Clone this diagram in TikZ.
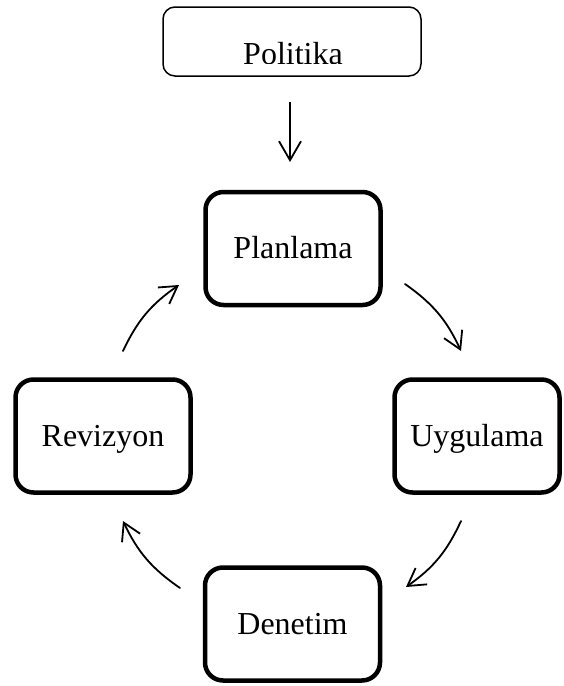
\documentclass[tikz,border=0pt]{standalone}
\usepackage{fontspec}
\setmainfont{Liberation Serif}
\usetikzlibrary{arrows.meta}

\tikzset{
  stagebox/.style={draw=black, line width=4.5pt, rounded corners=18pt,
    inner sep=0pt, minimum width=175pt, minimum height=113pt,
    text height=25pt, text depth=5pt, font=\fontsize{32}{38}\selectfont},
  headbox/.style={draw=black, line width=1.5pt, rounded corners=12pt,
    inner sep=0pt, minimum width=258pt, minimum height=69pt},
  cyclearrow/.style={line width=1.8pt, line cap=round,
    -{Straight Barb[length=17pt, width=20pt, line width=1.8pt]}},
  downarrow/.style={line width=1.8pt,
    -{Straight Barb[length=19pt, width=22pt, line width=1.8pt]}}
}

\begin{document}
\begin{tikzpicture}[x=1pt, y=-1pt]
  \useasboundingbox (0,0) rectangle (563,686);

  % policy box with its label sitting low and trimmed at the bottom
  \node[headbox] (pol) at (292,41.5) {};
  \begin{scope}
    \clip (150,0) rectangle (430,63.5);
    \node[anchor=base, inner sep=0pt, font=\fontsize{32}{38}\selectfont]
      (poltext) at (293,64.5) {Politika};
  \end{scope}

  % the four stages of the cycle
  \node[stagebox] (plan) at (293,248.5) {Planlama};
  \node[stagebox, minimum width=165pt] (uyg) at (477,436) {Uygulama};
  \node[stagebox] (den) at (292.5,624) {Denetim};
  \node[stagebox] (rev) at (103,436) {Revizyon};

  % arrow ends
  \coordinate (p1) at (290,102);
  \coordinate (p2) at (290,162);
  \coordinate (a1) at (405,284);
  \coordinate (a2) at (461,351);
  \coordinate (b1) at (461,521);
  \coordinate (b2) at (406,587);
  \coordinate (c1) at (180,588);
  \coordinate (c2) at (123,521);
  \coordinate (d1) at (123,351);
  \coordinate (d2) at (179,285);

  \draw[downarrow] (p1) -- (p2);
  \draw[cyclearrow] (a1) to[bend left=15] (a2);
  \draw[cyclearrow] (b1) to[bend left=15] (b2);
  \draw[cyclearrow] (c1) to[bend left=15] (c2);
  \draw[cyclearrow] (d1) to[bend left=15] (d2);
\end{tikzpicture}
\end{document}
